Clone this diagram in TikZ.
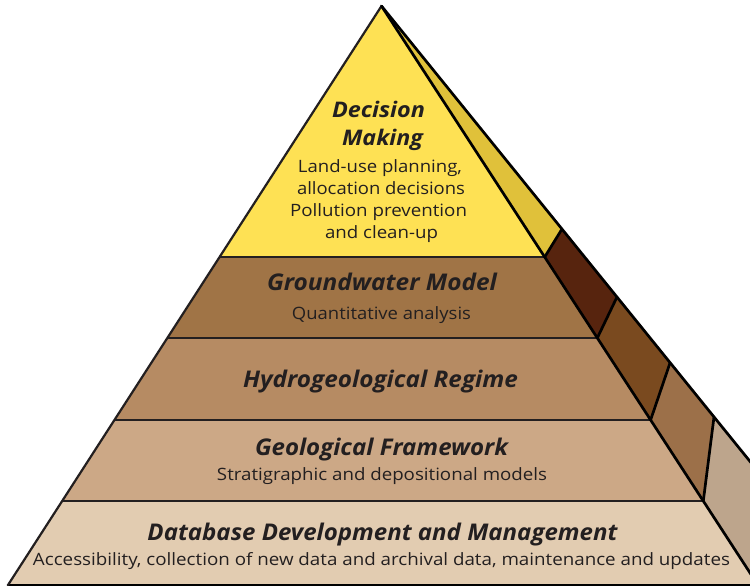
\documentclass[tikz,border=0pt]{standalone}
\usepackage{fontspec}
\setmainfont{Open Sans}
\usepackage{graphicx}
\definecolor{yellowF}{HTML}{FEE154}
\definecolor{yellowS}{HTML}{E0C13A}
\definecolor{gwF}{HTML}{A07446}
\definecolor{hyF}{HTML}{B68B63}
\definecolor{geF}{HTML}{CCA886}
\definecolor{dbF}{HTML}{E2CCB1}
\definecolor{sideA}{HTML}{57240E}
\definecolor{sideB}{HTML}{7A4A1F}
\definecolor{sideC}{HTML}{9C7049}
\definecolor{sideD}{HTML}{BDA58C}
\definecolor{textc}{HTML}{231F20}
\newcommand\fitw[2]{\resizebox{#1pt}{\height}{#2}}
\tikzset{
  edge/.style={draw=black, line width=2.7pt, line join=round, line cap=round},
  leftedge/.style={draw=textc, line width=2.2pt, line join=round, line cap=round},
  band/.style={draw=textc, line width=1.9pt},
  txt/.style={text=textc, inner sep=0pt, anchor=base},
  title/.style={txt, font=\fontsize{23}{27}\selectfont\bfseries\itshape},
  ttop/.style={txt, font=\fontsize{21.5}{25}\selectfont\bfseries\itshape},
  sub/.style={txt, font=\fontsize{17}{20}\selectfont},
}
\begin{document}
\begin{tikzpicture}[x=1pt,y=-1pt]
\useasboundingbox (0,0) rectangle (750,587);
\clip (0,0) rectangle (750,587);
% key points
\coordinate (A) at (381.5,6);
\coordinate (L1) at (219.6,257);
\coordinate (L2) at (167.4,338);
\coordinate (L3) at (114.5,420);
\coordinate (L4) at (62.2,501);
\coordinate (L5) at (8,585);
\coordinate (R1) at (544.7,257);
\coordinate (R2) at (597.3,338);
\coordinate (R3) at (650.6,420);
\coordinate (R4) at (703.3,501);
\coordinate (R5) at (757.9,585);
\coordinate (O1) at (562,229);
\coordinate (O2) at (617,297);
\coordinate (O3) at (670,363);
\coordinate (O4) at (714,417);
\coordinate (O5) at (867,606);
% front faces
\fill[yellowF] (A) -- (R1) -- (L1) -- cycle;
\fill[gwF] (L1) -- (R1) -- (R2) -- (L2) -- cycle;
\fill[hyF] (L2) -- (R2) -- (R3) -- (L3) -- cycle;
\fill[geF] (L3) -- (R3) -- (R4) -- (L4) -- cycle;
\fill[dbF] (L4) -- (R4) -- (R5) -- (L5) -- cycle;
% side faces
\fill[yellowS] (A) -- (O1) -- (R1) -- cycle;
\fill[sideA] (R1) -- (O1) -- (O2) -- (R2) -- cycle;
\fill[sideB] (R2) -- (O2) -- (O3) -- (R3) -- cycle;
\fill[sideC] (R3) -- (O3) -- (O4) -- (R4) -- cycle;
\fill[sideD] (R4) -- (O4) -- (O5) -- (R5) -- cycle;
% band lines
\draw[band] (L1) -- (R1);
\draw[band] (L2) -- (R2);
\draw[band] (L3) -- (R3);
\draw[band] (L4) -- (R4);
\draw[edge] (L5) -- (R5);
% edges
\draw[leftedge] (L5) -- (A);
\draw[edge] (A) -- (R5);
\draw[edge] (A) -- (O5);
\draw[edge] (R1) -- (O1);
\draw[edge] (R2) -- (O2);
\draw[edge] (R3) -- (O3);
\draw[edge] (R4) -- (O4);
% texts
\node[ttop] (t1a) at (378.5,117) {\fitw{93}{Decision}};
\node[ttop] (t1b) at (382.5,145) {\fitw{81}{Making}};
\node[sub] (s1a) at (380,172) {\fitw{164}{Land-use planning,}};
\node[sub] (s1b) at (381,194) {\fitw{168}{allocation decisions}};
\node[sub] (s1c) at (378.5,216) {\fitw{177}{Pollution prevention}};
\node[sub] (s1d) at (381.5,238) {\fitw{113}{and clean-up}};
\node[title] (t2) at (382,290) {\fitw{230}{Groundwater Model}};
\node[sub] (s2) at (381.5,319) {\fitw{179}{Quantitative analysis}};
\node[title] (t3) at (380.5,387) {\fitw{275}{Hydrogeological Regime}};
\node[title] (t4) at (381.5,455) {\fitw{253}{Geological Framework}};
\node[sub] (s4) at (382,480) {\fitw{330}{Stratigraphic and depositional models}};
\node[title] (t5) at (382.5,540) {\fitw{470}{Database Development and Management}};
\node[sub] (s5) at (381.5,565) {\fitw{697}{Accessibility, collection of new data and archival data, maintenance and updates}};
\end{tikzpicture}
\end{document}
